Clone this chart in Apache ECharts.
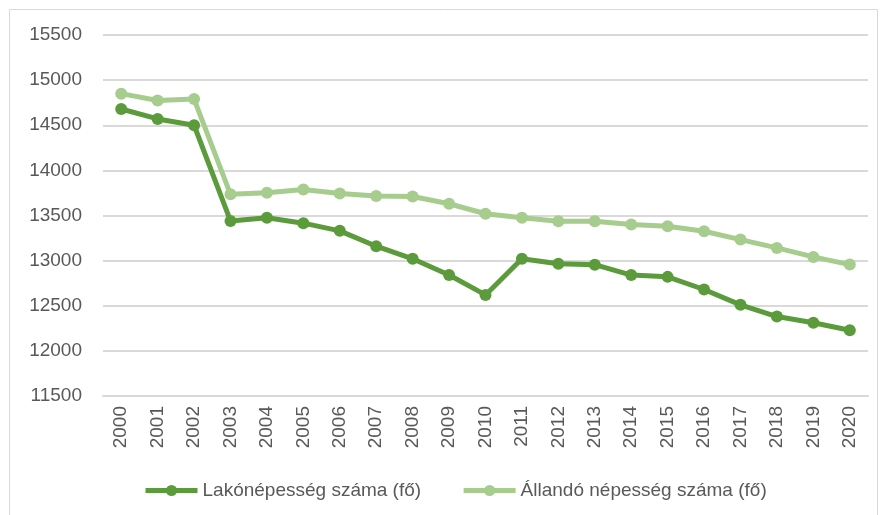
<!DOCTYPE html>
<html>
<head>
<meta charset="utf-8">
<script src="https://cdn.jsdelivr.net/npm/echarts@6/dist/echarts.min.js"></script>
<style>
  html, body { margin: 0; padding: 0; background: #fff; }
  #chart { width: 881px; height: 515px; }
</style>
</head>
<body>
<div id="chart"></div>
<script>
var years = ['2000', '2001', '2002', '2003', '2004', '2005', '2006', '2007', '2008', '2009', '2010',
             '2011', '2012', '2013', '2014', '2015', '2016', '2017', '2018', '2019', '2020'];
var lakoNepesseg = [14680, 14570, 14500, 13440, 13475, 13415, 13330, 13160, 13020, 12840, 12620,
                    13020, 12965, 12955, 12840, 12820, 12680, 12510, 12380, 12312, 12228];
var allandoNepesseg = [14850, 14775, 14790, 13735, 13752, 13789, 13744, 13715, 13711, 13630, 13519,
                       13474, 13437, 13437, 13400, 13381, 13326, 13233, 13141, 13041, 12956];
var seriesNames = ['Lakónépesség száma (fő)', 'Állandó népesség száma (fő)'];

var darkGreen = '#5c9b3c';
var lightGreen = '#a6cc8e';
var labelFont = 'Liberation Sans';

var chart = echarts.init(document.getElementById('chart'));
var option = {
    backgroundColor: '#fff',
    animation: false,
    graphic: [{
        type: 'rect',
        shape: { x: 9.5, y: 9.5, width: 868, height: 520 },
        style: { fill: 'none', stroke: '#d9d9d9', lineWidth: 1 },
        silent: true
    }],
    grid: { left: 103, right: 13, top: 35, bottom: 119 },
    legend: {
        left: 138,
        top: 476,
        itemWidth: 52,
        itemHeight: 14,
        itemGap: 40,
        lineStyle: { width: 5 },
        textStyle: { fontFamily: labelFont, fontSize: 19, color: '#595959' },
        data: seriesNames
    },
    xAxis: {
        type: 'category',
        data: years,
        boundaryGap: true,
        axisLine: { lineStyle: { color: '#d9d9d9', width: 2 } },
        axisTick: { show: false },
        axisLabel: { rotate: 90, margin: 10, fontFamily: labelFont, fontSize: 19, color: '#595959' }
    },
    yAxis: {
        type: 'value',
        min: 11500,
        max: 15500,
        interval: 500,
        axisLine: { show: false },
        axisTick: { show: false },
        splitLine: { lineStyle: { color: '#d9d9d9', width: 2 } },
        axisLabel: {
            margin: 21, fontFamily: labelFont, fontSize: 19, color: '#595959',
            formatter: function (v) { return String(v); }
        }
    },
    series: [{
        name: seriesNames[0],
        type: 'line',
        data: lakoNepesseg,
        symbol: 'circle',
        symbolSize: 12,
        lineStyle: { color: darkGreen, width: 5 },
        itemStyle: { color: darkGreen },
        z: 3
    }, {
        name: seriesNames[1],
        type: 'line',
        data: allandoNepesseg,
        symbol: 'circle',
        symbolSize: 12,
        lineStyle: { color: lightGreen, width: 5 },
        itemStyle: { color: lightGreen },
        z: 2
    }]
};
chart.setOption(option);
</script>
</body>
</html>
